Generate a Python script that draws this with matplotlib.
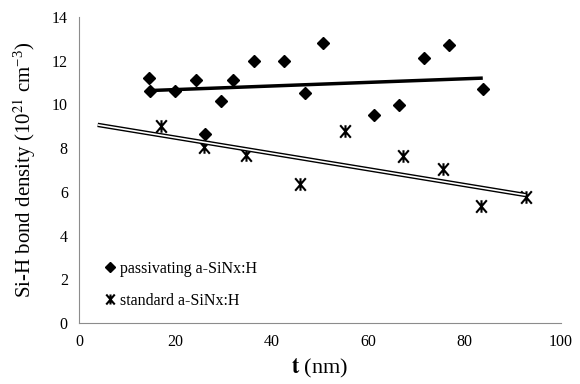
import matplotlib
matplotlib.use('Agg')
from matplotlib import pyplot as plt
from matplotlib.path import Path
import numpy as np

# passivating a-SiNx:H (diamonds)
pass_t = [14.5, 14.7, 19.9, 24.3, 26.1, 29.5, 32.0, 36.3, 42.5, 46.9, 50.6, 61.2, 66.4, 71.6, 76.8, 83.8]
pass_d = [11.2, 10.6, 10.6, 11.1, 8.65, 10.15, 11.1, 12.0, 12.0, 10.5, 12.8, 9.5, 9.95, 12.1, 12.7, 10.7]

# standard a-SiNx:H (stars)
std_t = [17.0, 26.0, 34.6, 45.9, 55.2, 67.2, 75.5, 83.4, 92.7]
std_d = [9.0, 8.05, 7.7, 6.35, 8.8, 7.65, 7.05, 5.35, 5.77]

# trend lines (endpoints)
pass_fit_t = [14.6, 83.8]
pass_fit_d = [10.63, 11.2]
std_fit_t = [3.9, 92.7]
std_fit_d = [9.06, 5.85]

xticks = [0, 20, 40, 60, 80, 100]
yticks = [0, 2, 4, 6, 8, 10, 12, 14]

plt.rcParams['font.family'] = 'Liberation Serif'
plt.rcParams['mathtext.fontset'] = 'stix'

# X with a vertical bar, like the Excel star marker
star = Path([(-0.85, -1), (0.85, 1), (-0.85, 1), (0.85, -1), (0, -1), (0, 1)],
            [Path.MOVETO, Path.LINETO] * 3)

fig = plt.figure(figsize=(5.8, 3.84), dpi=100)
ax = fig.add_axes([0.136, 0.159, 0.831, 0.797])

ax.plot(pass_t, pass_d, 'D', color='black', markersize=6, label='passivating a-SiNx:H')
ax.plot(std_t, std_d, marker=star, linestyle='none', color='black', markersize=9,
        markerfacecolor='none', markeredgewidth=1.5, label='standard a-SiNx:H')

ax.plot(pass_fit_t, pass_fit_d, color='black', lw=2.5, solid_capstyle='butt')
ax.plot(std_fit_t, std_fit_d, color='black', lw=3.2, solid_capstyle='butt')
ax.plot(std_fit_t, std_fit_d, color='white', lw=1.2, solid_capstyle='butt')

ax.set_xlim(0, 100)
ax.set_ylim(0, 14)
ax.set_xticks(xticks)
ax.set_yticks(yticks)
ax.tick_params(length=0, labelsize=11.5, pad=8)
for s in ['top', 'right']:
    ax.spines[s].set_visible(False)
for s in ['left', 'bottom']:
    ax.spines[s].set_color('#8c8c8c')

ax.set_ylabel('Si-H bond density (10$^{21}$ cm$^{\\mathdefault{-3}}$)', fontsize=15, labelpad=10)
ax.set_xlabel('$\\mathbf{t}$ (nm)', fontsize=16, labelpad=5)

ax.legend(loc='lower left', frameon=False, fontsize=11.5, handletextpad=0.15,
          handlelength=0.9, labelspacing=1.0, markerscale=0.8,
          bbox_to_anchor=(0.02, 0.0))

plt.savefig('out.png', dpi=100)
